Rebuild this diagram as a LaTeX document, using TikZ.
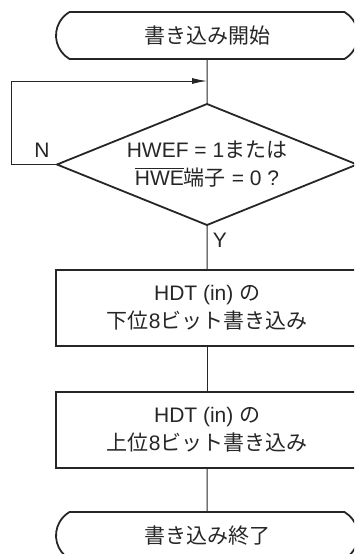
\documentclass[tikz,border=0pt]{standalone}
\usepackage{fontspec}
\setmainfont{Liberation Sans}
\newfontfamily\jp{Noto Sans CJK JP}
\usetikzlibrary{shapes.misc,shapes.geometric,arrows.meta}
\newcommand\ovbar[1]{\leavevmode\vbox{\hrule height 0.9pt\kern 2.5pt\hbox{#1}}}
\begin{document}
\begin{tikzpicture}[x=1pt,y=-1pt,
  every node/.style={font=\fontsize{21}{28}\selectfont, align=center, text=black!85},
  term/.style={draw=black!85, line width=1.8pt, rounded rectangle, rounded rectangle arc length=120,
    minimum width=302pt, minimum height=47pt, inner sep=0pt, outer sep=0pt},
  procbox/.style={draw=black!85, line width=1.8pt, rectangle, minimum width=303pt, minimum height=76pt,
    inner sep=0pt, outer sep=0pt},
  decision/.style={draw=black!85, line width=1.8pt, diamond, aspect=2.48, minimum width=300pt,
    minimum height=121pt, inner sep=0pt, outer sep=0pt},
  conn/.style={draw=black!85, line width=1pt},
  lbl/.style={font=\fontsize{21}{24}\selectfont}
]
\useasboundingbox (0,0) rectangle (354,554);
\clip (0,0) rectangle (354,554);
\node[term] (start) at (207,35.5) {\jp 書き込み開始};
\node[decision] (dec) at (207,164.5) {HWEF = 1{\jp または}\\\ovbar{HWE}{\jp 端子} = 0 ?};
\node[procbox] (p1) at (207.2,308) {HDT (in) {\jp の}\\{\jp 下位}8{\jp ビット書き込み}};
\node[procbox] (p2) at (207.2,430) {HDT (in) {\jp の}\\{\jp 上位}8{\jp ビット書き込み}};
\node[term] (end) at (207,535.5) {\jp 書き込み終了};
\coordinate (join) at (207,81);
\coordinate (lc) at (11,164.5);
\draw[conn] (start) -- (dec.north);
\draw[conn, -{Latex[length=15pt,width=6pt]}] (dec.west) -- (lc) |- (join);
\draw[conn] (dec.south) -- (p1);
\draw[conn] (p1) -- (p2);
\draw[conn] (p2) -- (end);
\node[lbl] (nlab) at (42,150) {N};
\node[lbl] (ylab) at (220,240) {Y};
\end{tikzpicture}
\end{document}
